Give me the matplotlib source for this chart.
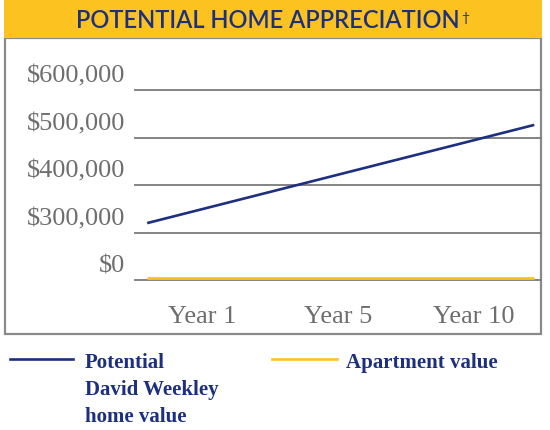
import numpy as np
import matplotlib
matplotlib.use("Agg")
import matplotlib.pyplot as plt
from matplotlib.patches import Rectangle
from matplotlib.lines import Line2D
from matplotlib.transforms import ScaledTranslation

# ---- data ----
categories = ["Year 1", "Year 5", "Year 10"]
tick_values = [0, 300000, 400000, 500000, 600000]
tick_labels = ["$0", "$300,000", "$400,000", "$500,000", "$600,000"]
series_names = ["Potential\nDavid Weekley\nhome value", "Apartment value"]
span_x = [0.09, 2.95]                 # start / end of each series on category axis
home_values = [320000, 527000]
apartment_values = [10000, 10000]
title = "POTENTIAL HOME APPRECIATION"
title_mark = "\u2020"

NAVY = "#1d3080"
GOLD = "#fcc21f"
GRAY = "#7a7a7a"
TXT_GRAY = "#6e6e6e"

W, H = 550, 431
fig = plt.figure(figsize=(W / 100, H / 100), dpi=100)
fig.patch.set_facecolor("white")

def fx(px):
    return px / W

def fy(py):
    return 1 - py / H

# axes area: x 135..541, y 91.3 ($600k line) .. 281 ($0 line)
ax = fig.add_axes([fx(135), fy(281), fx(541) - fx(135), (281 - 91.3) / H])

# piecewise scale: ticks equally spaced
pts_v = [0, 300000, 400000, 500000, 600000, 700000]
pts_p = [0, 1, 2, 3, 4, 5]
fwd = lambda v: np.interp(v, pts_v, pts_p)
inv = lambda p: np.interp(p, pts_p, pts_v)
ax.set_yscale("function", functions=(fwd, inv))
ax.set_ylim(0, 600000)
ax.set_xlim(0, len(categories))

ax.plot(span_x, home_values, color=NAVY, lw=1.9, solid_capstyle="butt", zorder=3)
ax.plot(span_x, apartment_values, color=GOLD, lw=2.0, solid_capstyle="butt", zorder=3)

ax.set_yticks(tick_values)
ax.set_yticklabels(tick_labels)
ax.yaxis.grid(True, color=GRAY, lw=1.3)
for gl in ax.get_ygridlines():
    gl.set_clip_on(False)
ax.set_axisbelow(True)
ax.tick_params(axis="y", length=0, pad=7, labelsize=19, labelcolor=TXT_GRAY)
off = ScaledTranslation(0, 17 / 100, fig.dpi_scale_trans)
for lab in ax.get_yticklabels():
    lab.set_fontfamily("Liberation Serif")
    lab.set_transform(lab.get_transform() + off)

ax.set_xticks(np.arange(len(categories)) + 0.5)
ax.set_xticklabels(categories)
ax.tick_params(axis="x", length=0, pad=18, labelsize=19, labelcolor=TXT_GRAY)
for lab in ax.get_xticklabels():
    lab.set_fontfamily("Liberation Serif")
for s in ax.spines.values():
    s.set_visible(False)
ax.set_facecolor("none")

# outer box
fig.add_artist(Rectangle((fx(5), fy(335)), fx(541) - fx(5), (335 - 39) / H,
                         transform=fig.transFigure, fill=False, ec="#8a8a8a", lw=1.6, zorder=0))
# title bar
fig.add_artist(Rectangle((fx(4), fy(39)), fx(542) - fx(4), 38 / H,
                         transform=fig.transFigure, fc=GOLD, ec="none", zorder=1))
t = fig.text(fx(268), fy(21), title, ha="center", va="center", color=NAVY,
             fontsize=17, family="Lato", fontweight="semibold", zorder=2)
renderer = fig.canvas.get_renderer()
bb = t.get_window_extent(renderer)
fig.text(bb.x1 / W + fx(1), fy(12), title_mark, ha="left", va="top", color=NAVY,
         fontsize=10, family="Lato", zorder=2)

# legend
legend_x = [(10, 73, 85), (272, 337, 346)]
for (x0, x1, xt), name, col in zip(legend_x, series_names, [NAVY, GOLD]):
    fig.add_artist(Line2D([fx(x0), fx(x1)], [fy(360), fy(360)], transform=fig.transFigure,
                          color=col, lw=1.9))
    fig.text(fx(xt), fy(353), name, ha="left", va="top", color=NAVY, fontsize=15,
             family="Liberation Serif", fontweight="bold", linespacing=1.45)

fig.savefig("out.png", dpi=100)
